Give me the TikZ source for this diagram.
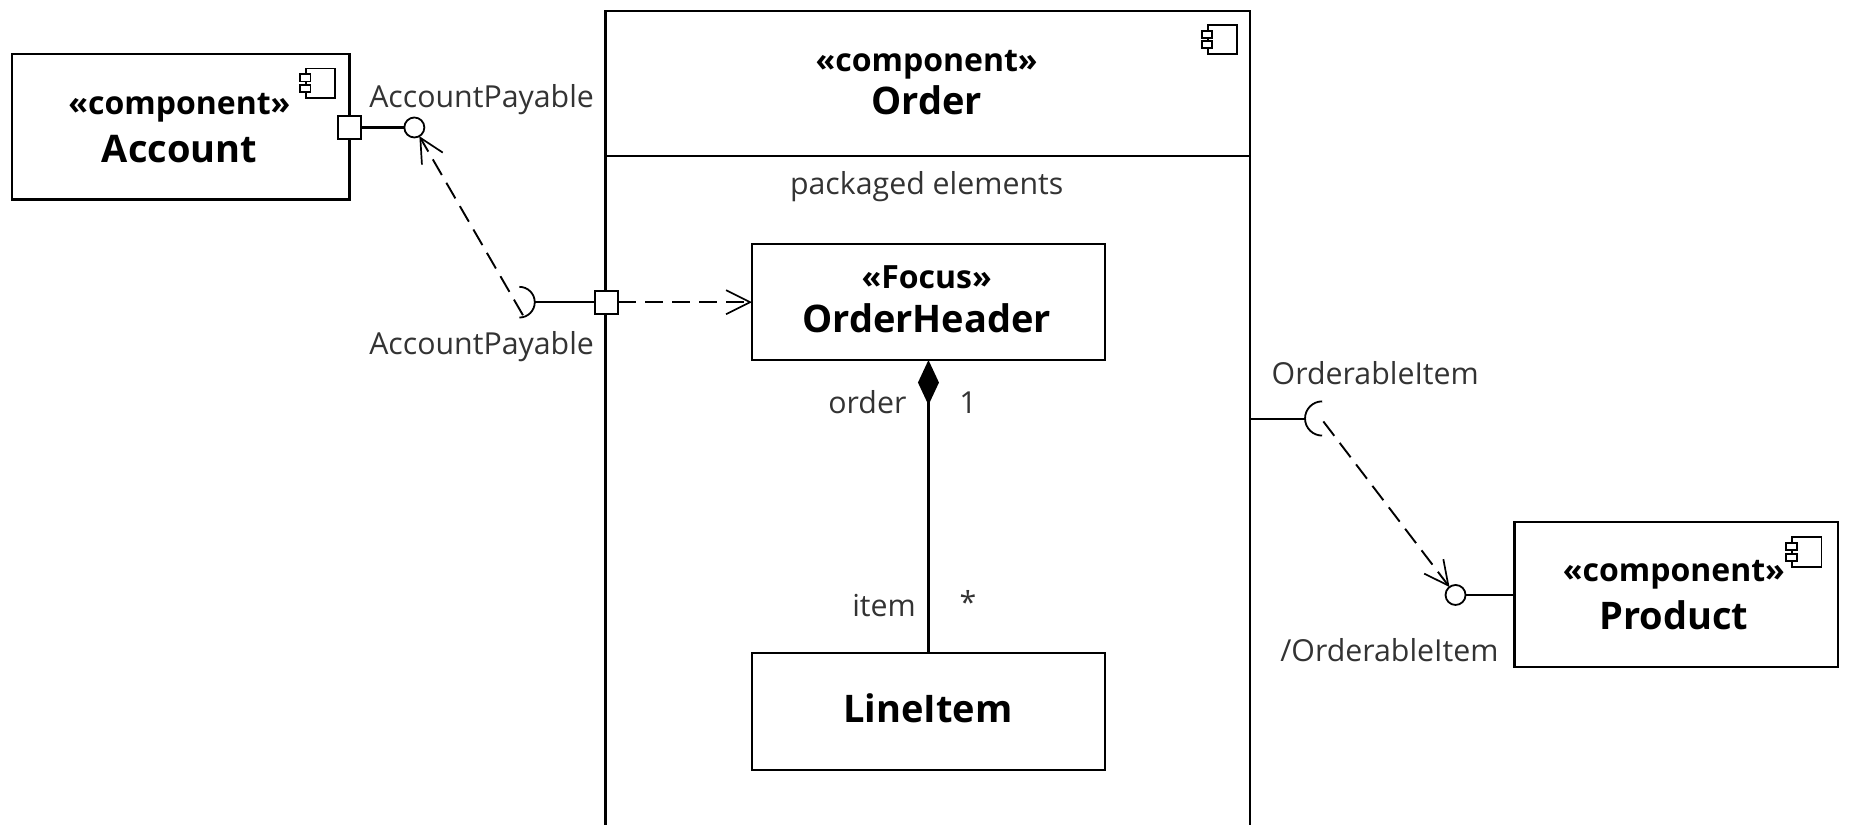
\documentclass[tikz,border=0pt]{standalone}
\usepackage{fontspec}
\setmainfont{Open Sans}
\usetikzlibrary{arrows.meta,shapes.geometric,positioning}
\definecolor{lbl}{HTML}{333333}
\tikzset{
  x=1.1805pt,y=-1.1805pt,
  box/.style={draw,fill=white,inner sep=0pt,outer sep=0pt,line width=2.2pt,minimum width=#1},
  portbox/.style={draw,fill=white,inner sep=0pt,outer sep=0pt,line width=2.2pt,minimum size=23pt},
  lolli/.style={draw,fill=white,circle,inner sep=0pt,outer sep=0pt,line width=1.8pt,minimum size=20pt},
  stereo/.style={inner sep=0pt,font=\fontsize{32}{32}\selectfont\bfseries},
  title/.style={inner sep=0pt,font=\fontsize{38}{38}\selectfont\bfseries},
  lab/.style={inner sep=0pt,text=lbl,font=\fontsize{30.3}{30.3}\selectfont},
  conn/.style={line width=2.2pt},
  dep/.style={line width=1.9pt,dash pattern=on 18pt off 9pt,-{Straight Barb[length=24pt,width=24pt,line width=1.7pt]}},
  compicon/.pic={
    \draw[line width=1.8pt] (-10,-12) rectangle (15,13);
    \draw[line width=1.8pt,fill=white] (-15,-7) rectangle (-6,-1);
    \draw[line width=1.8pt,fill=white] (-15,2) rectangle (-6,8);
  }
}
\begin{document}
\begin{tikzpicture}
\useasboundingbox (0,0) rectangle (1568,699);
% Order outer
\node[box=546*1.1805pt,minimum height=123*1.1805pt] (order) at (786,70.5) {};
\coordinate (oblb) at (513,699);
\coordinate (obrb) at (1059,699);
\draw[conn] (order.south west) -- (oblb);
\draw[conn] (order.south east) -- (obrb);
\pic at (1033,33) {compicon};
\node[stereo] (orderst) at (785,55) {«component»};
\node[title] (ordert) at (785,85) {Order};
\node[lab] (pe) at (785,158) {packaged elements};
% inner
\node[box=299*1.1805pt,minimum height=98*1.1805pt] (oh) at (786.5,256) {};
\node[stereo] (ohst) at (785,235) {«Focus»};
\node[title] (oht) at (785,270) {OrderHeader};
\node[box=299*1.1805pt,minimum height=99*1.1805pt] (li) at (786.5,602.5) {};
\node[title] (lit) at (786,600) {LineItem};
\draw[conn,{Diamond[length=45pt,width=21pt,fill=black]}-] (oh.south) -- (li.north);
\node[lab,anchor=east] (ordl) at (768,341) {order};
\node[lab] (one) at (820,341) {1};
\node[lab,anchor=east] (iteml) at (776,513) {item};
\node[lab] (star) at (820,510) {*};
% Account
\node[box=286*1.1805pt,minimum height=123*1.1805pt] (acc) at (153,107.5) {};
\pic at (269,70) {compicon};
\node[stereo] (accst) at (152,91) {«component»};
\node[title] (acct) at (152,126) {Account};
\node[portbox] (p1) at (296,108) {};
\node[lolli] (c1) at (351,108) {};
\draw[conn] (p1) -- (c1);
\node[lab] (l1) at (408,84) {AccountPayable};
% required on Order
\node[portbox] (p2) at (514,256) {};
\coordinate (s1) at (453.5,256);
\draw[conn] (s1) -- (p2);
\draw[line width=1.8pt] (440,243) arc[start angle=-90,end angle=90,radius=13];
\node[lab] (l2) at (408,294) {AccountPayable};
\coordinate (s1d) at (443,267);
\draw[dep] (s1d) -- (c1);
\draw[dep] (p2) -- (oh.west);
% right
\node[box=274*1.1805pt,minimum height=123*1.1805pt] (prod) at (1420,503.5) {};
\pic at (1528,467) {compicon};
\node[stereo] (prst) at (1418,487) {«component»};
\node[title] (prt) at (1418,521) {Product};
\node[lolli] (c2) at (1233,504) {};
\draw[conn] (c2) -- (prod.west |- c2);
\node[lab] (l4) at (1177,551) {/OrderableItem};
\coordinate (ordr) at (1059,355);
\coordinate (s2) at (1106,355);
\draw[conn] (ordr) -- (s2);
\draw[line width=1.8pt] (1120,340) arc[start angle=-90,end angle=-270,radius=14.5];
\node[lab] (l3) at (1165,316) {OrderableItem};
\coordinate (s2d) at (1121,357);
\draw[dep] (s2d) -- (c2);
\end{tikzpicture}
\end{document}
